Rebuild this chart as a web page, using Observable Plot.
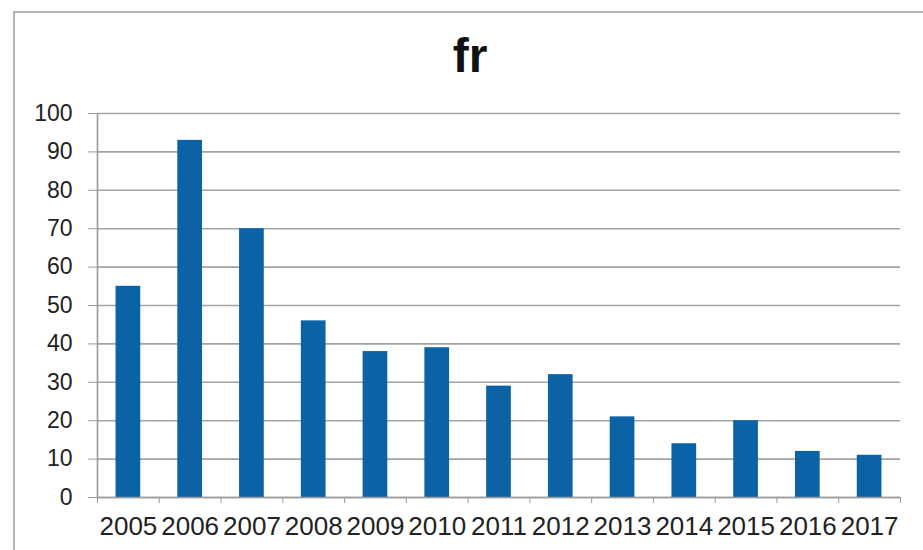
<!DOCTYPE html>
<html>
<head>
<meta charset="utf-8">
<script src="https://cdn.jsdelivr.net/npm/d3@7"></script>
<script src="https://cdn.jsdelivr.net/npm/@observablehq/plot@0.6"></script>
<style>
  html, body { margin: 0; padding: 0; background: #fff; }
  #wrap { position: relative; width: 923px; height: 550px; overflow: hidden; font-family: "Liberation Sans", Arial, sans-serif; }
  #frame { position: absolute; left: 13px; top: 11px; width: 1000px; height: 600px; border: 2px solid #b4b4b4; box-sizing: border-box; }
  #title { position: absolute; left: 0; top: 32px; width: 940px; text-align: center; font-size: 48px; line-height: 48px; font-weight: bold; color: #111; }
  #chart { position: absolute; left: 0; top: 90px; }
</style>
</head>
<body>
<div id="wrap">
  <div id="frame"></div>
  <div id="title">fr</div>
  <div id="chart"></div>
</div>
<script>
const years = ["2005","2006","2007","2008","2009","2010","2011","2012","2013","2014","2015","2016","2017"];
const values = [55, 93, 70, 46, 38, 39, 29, 32, 21, 14, 20, 12, 11];
const yTicks = [0,10,20,30,40,50,60,70,80,90,100];

const data = years.map((y, i) => ({year: y, value: values[i]}));

const W = 923, H = 460, mL = 97, mR = 23, mT = 23, mB = 53;
const xScale = Plot.scale({x: {type: "band", domain: years, range: [mL, W - mR], paddingInner: 0.6, paddingOuter: 0.3, round: false}});
const step = xScale.step;
const tickLen = 6 * 100 / (H - mT - mB);

const plot = Plot.plot({
  width: W,
  height: H,
  marginLeft: mL,
  marginRight: mR,
  marginTop: mT,
  marginBottom: mB,
  style: {fontFamily: "'Liberation Sans', Arial, sans-serif", color: "#222", background: "transparent", overflow: "visible"},
  x: {type: "band", domain: years, paddingInner: 0.6, paddingOuter: 0.3, round: false},
  y: {domain: [0, 100]},
  marks: [
    Plot.gridY(yTicks, {stroke: "#a3a3a3", strokeOpacity: 1, strokeWidth: 1.6}),
    Plot.barY(data, {x: "year", y: "value", fill: "#0b63a5"}),
    Plot.ruleX([years[0]], {x: d => d, dx: -step/2, y1: 0, y2: 100, stroke: "#9a9a9a", strokeWidth: 1.6}),
    Plot.ruleY([0], {stroke: "#9a9a9a", strokeWidth: 1.6}),
    Plot.axisY({ticks: yTicks, tickSize: 9, tickPadding: 16, fontSize: 23, stroke: "#9a9a9a", label: null, color: "#222"}),
    Plot.axisX({tickSize: 6, dx: -step/2, text: null, stroke: "#9a9a9a", label: null}),
    Plot.ruleX([years[years.length-1]], {x: d => d, dx: step/2, y1: 0, y2: -tickLen, stroke: "#9a9a9a"}),
    Plot.axisX({tickSize: 0, tickPadding: 19, fontSize: 26, label: null, color: "#222"})
  ]
});
document.getElementById("chart").appendChild(plot);
</script>
</body>
</html>
